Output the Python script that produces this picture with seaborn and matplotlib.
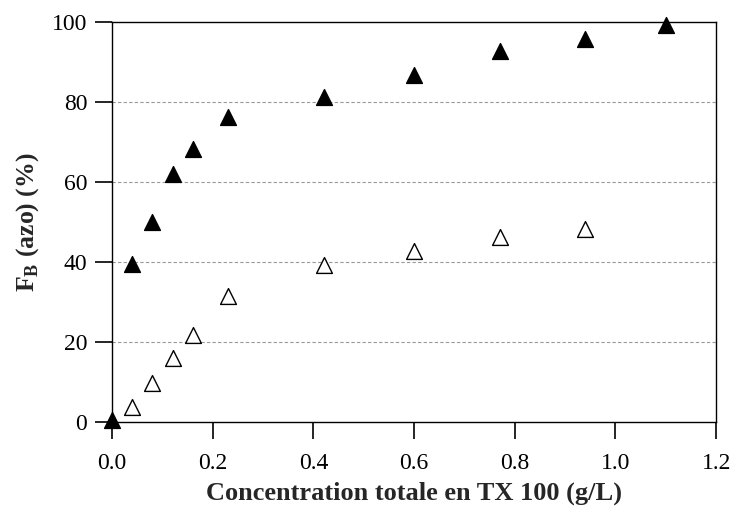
import pandas as pd
import seaborn as sns
import matplotlib.pyplot as plt

conc_filled = [0.0, 0.04, 0.08, 0.12, 0.16, 0.23, 0.42, 0.60, 0.77, 0.94, 1.10]
fb_filled = [0.5, 39.5, 50.0, 62.0, 68.2, 76.2, 81.2, 86.8, 92.8, 95.8, 99.2]

conc_open = [0.04, 0.08, 0.12, 0.16, 0.23, 0.42, 0.60, 0.77, 0.94]
fb_open = [3.8, 9.8, 16.0, 21.8, 31.5, 39.2, 42.8, 46.2, 48.2]

df_filled = pd.DataFrame({'conc': conc_filled, 'fb': fb_filled})
df_open = pd.DataFrame({'conc': conc_open, 'fb': fb_open})

sns.set_theme(style="ticks", rc={
    'xtick.major.size': 12, 'ytick.major.size': 12,
    'xtick.major.width': 1.2, 'ytick.major.width': 1.2,
    'xtick.color': 'black', 'ytick.color': 'black',
    'xtick.bottom': True, 'ytick.left': True,
    'xtick.direction': 'out', 'ytick.direction': 'out',
})
plt.rcParams['font.family'] = ['Liberation Serif', 'DejaVu Serif']
plt.rcParams['mathtext.fontset'] = 'custom'
plt.rcParams['mathtext.rm'] = 'Liberation Serif'
plt.rcParams['mathtext.bf'] = 'Liberation Serif:bold'

fig, ax = plt.subplots(figsize=(7.33, 5.11), dpi=100)
fig.subplots_adjust(left=0.153, right=0.977, top=0.957, bottom=0.174)

sns.scatterplot(data=df_open, x='conc', y='fb', marker='^', s=130,
                facecolor='white', edgecolor='black', linewidth=1.0, ax=ax, zorder=3)
sns.scatterplot(data=df_filled, x='conc', y='fb', marker='^', s=130,
                color='black', edgecolor='black', linewidth=1.0, ax=ax, zorder=4)

ax.set_xlim(0, 1.2)
ax.set_ylim(0, 100)
ax.set_xticks([0, 0.2, 0.4, 0.6, 0.8, 1.0, 1.2])
ax.set_xticklabels(['0.0', '0.2', '0.4', '0.6', '0.8', '1.0', '1.2'])
ax.set_yticks([0, 20, 40, 60, 80, 100])

# dashed horizontal grid, no vertical one
for y in [20, 40, 60, 80]:
    ax.axhline(y, color='#999999', linestyle=(0, (3, 2)), linewidth=0.8, zorder=1)

for sp in ax.spines.values():
    sp.set_color('black')
    sp.set_linewidth(1.0)
    sp.set_visible(True)

ax.tick_params(axis='x', labelsize=17, pad=10)
ax.tick_params(axis='y', labelsize=17, pad=6)

for c in ax.collections:
    c.set_clip_on(False)

ax.set_xlabel('Concentration totale en TX 100 (g/L)', fontsize=19, fontweight='bold', labelpad=6)
ax.set_ylabel(r'F$_{\mathbf{B}}$ (azo) (%)', fontsize=18.5, fontweight='bold', labelpad=8)

plt.savefig('out.png', dpi=100)
